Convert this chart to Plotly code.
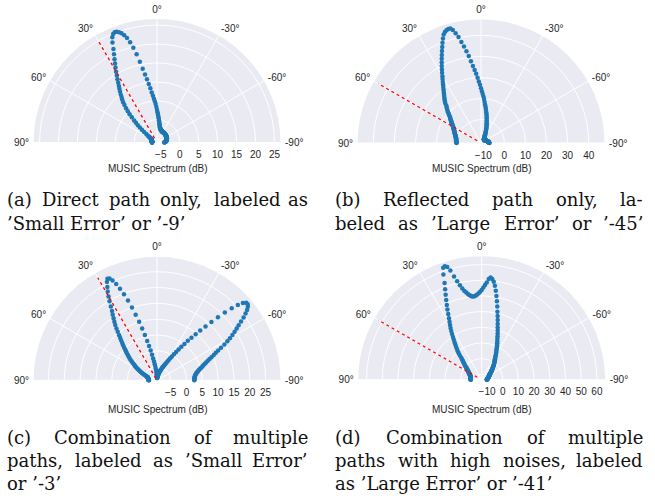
import plotly.graph_objects as go

W, H = 655, 504

# ---------------- data ----------------
theta_deg = list(range(-90, 91))  # 1 degree grid, -90..90

spec_a = [
    -4.1, -4.0, -3.9, -3.9, -3.8, -3.8, -3.7, -3.7, -3.6, -3.6,
    -3.5, -3.5, -3.5, -3.4, -3.4, -3.4, -3.3, -3.3, -3.3, -3.3,
    -3.3, -3.2, -3.2, -3.2, -3.2, -3.2, -3.2, -3.1, -3.1, -3.1,
    -3.1, -3.1, -3.1, -3.1, -3.0, -3.0, -3.0, -3.0, -3.0, -3.0,
    -3.0, -3.0, -3.0, -3.0, -3.0, -3.0, -3.0, -2.9, -2.9, -2.9,
    -2.9, -2.9, -2.9, -2.9, -2.9, -2.9, -2.9, -2.9, -2.8, -2.8,
    -2.8, -2.8, -2.8, -2.8, -2.8, -2.8, -2.8, -2.8, -2.7, -2.7,
    -2.6, -2.6, -2.5, -2.5, -2.4, -2.4, -2.3, -2.2, -2.1, -2.0,
    -1.8, -1.5, -1.2, -0.9, -0.5, -0.1, 0.4, 0.9, 1.4, 2.0,
    2.6, 3.4, 4.2, 4.9, 5.6, 6.4, 7.3, 8.4, 9.6, 10.9,
    12.2, 13.8, 15.8, 17.9, 19.8, 21.4, 22.7, 23.6, 24.3, 24.8,
    25.1, 25.2, 24.9, 24.2, 22.9, 21.2, 19.9, 18.7, 17.6, 16.6,
    15.6, 14.6, 13.7, 12.8, 12.0, 11.3, 10.6, 9.9, 9.2, 8.6,
    7.9, 7.1, 6.2, 5.3, 4.4, 3.4, 2.4, 1.6, 0.8, 0.0,
    -0.8, -1.6, -2.4, -2.9, -3.3, -3.6, -3.8, -4.0, -4.1, -4.2,
    -4.3, -4.3, -4.4, -4.4, -4.4, -4.5, -4.5, -4.5, -4.5, -4.5,
    -4.6, -4.6, -4.6, -4.6, -4.6, -4.6, -4.6, -4.6, -4.6, -4.6,
    -4.6, -4.6, -4.6, -4.7, -4.7, -4.7, -4.7, -4.7, -4.7, -4.7,
    -4.7,
]

spec_b = [
    -7.1, -7.2, -7.2, -7.3, -7.3, -7.4, -7.4, -7.5, -7.5, -7.6,
    -7.6, -7.7, -7.7, -7.8, -7.8, -7.9, -7.9, -8.0, -8.0, -8.1,
    -8.2, -8.2, -8.3, -8.3, -8.4, -8.4, -8.5, -8.5, -8.6, -8.6,
    -8.7, -8.7, -8.7, -8.8, -8.8, -8.8, -8.9, -8.9, -8.9, -8.9,
    -9.0, -9.0, -9.0, -9.0, -9.0, -9.0, -9.0, -9.0, -9.0, -9.0,
    -8.9, -8.9, -8.8, -8.7, -8.6, -8.5, -8.4, -8.3, -8.1, -8.0,
    -7.8, -7.6, -7.3, -7.0, -6.6, -6.2, -5.8, -5.3, -4.8, -4.3,
    -3.7, -3.1, -2.5, -1.9, -1.3, -0.6, 0.0, 0.9, 1.8, 2.7,
    3.5, 4.3, 5.3, 6.3, 7.3, 8.4, 9.8, 11.0, 12.2, 13.5,
    14.9, 16.5, 18.1, 19.9, 21.8, 23.7, 25.6, 28.0, 30.6, 33.0,
    35.4, 37.7, 40.3, 42.4, 44.2, 45.1, 45.2, 44.9, 44.3, 43.3,
    41.7, 39.9, 38.0, 36.3, 34.6, 33.0, 31.4, 29.9, 28.4, 27.0,
    25.5, 24.3, 23.1, 22.0, 20.9, 19.9, 19.0, 18.1, 17.3, 16.5,
    15.8, 15.0, 14.2, 13.0, 12.3, 11.7, 11.0, 10.3, 9.6, 8.9,
    8.2, 7.7, 7.2, 6.8, 6.4, 6.0, 5.6, 5.2, 4.8, 4.5,
    4.1, 3.9, 3.6, 3.4, 3.2, 3.0, 2.8, 2.6, 2.4, 2.3,
    2.1, 2.0, 1.8, 1.7, 1.5, 1.4, 1.2, 1.1, 1.0, 1.0,
    0.9, 0.9, 0.8, 0.8, 0.8, 0.7, 0.7, 0.6, 0.6, 0.5,
    0.5,
]

spec_c = [
    2.5, 2.5, 2.5, 2.6, 2.6, 2.7, 2.7, 2.8, 2.9, 3.1,
    3.3, 3.5, 3.8, 4.1, 4.4, 4.8, 5.2, 5.7, 6.1, 6.6,
    7.2, 7.9, 8.6, 9.4, 10.3, 11.2, 12.2, 13.4, 14.8, 16.1,
    17.3, 18.5, 19.6, 20.7, 21.8, 23.1, 24.5, 25.7, 26.8, 27.6,
    28.1, 28.0, 27.2, 25.6, 23.5, 21.0, 18.4, 15.9, 13.6, 11.5,
    9.7, 8.0, 6.5, 5.1, 3.8, 2.6, 1.5, 0.5, -0.4, -1.2,
    -1.9, -2.5, -3.0, -3.5, -3.9, -4.3, -4.6, -4.9, -5.2, -5.5,
    -5.8, -6.0, -6.2, -6.4, -6.6, -6.8, -7.0, -7.2, -7.4, -7.6,
    -7.7, -7.9, -8.0, -8.1, -8.2, -8.3, -8.4, -8.5, -8.6, -8.6,
    -8.5, -8.3, -7.9, -7.4, -6.9, -6.3, -5.7, -5.0, -4.2, -3.3,
    -2.3, -1.1, 0.3, 1.8, 3.5, 5.5, 7.7, 10.0, 12.5, 15.0,
    17.5, 19.8, 21.9, 23.7, 25.2, 26.2, 26.4, 25.5, 24.1, 22.8,
    21.3, 19.8, 18.2, 16.8, 15.7, 14.6, 13.6, 12.6, 11.5, 10.4,
    9.3, 8.4, 7.6, 6.8, 6.1, 5.4, 4.7, 4.1, 3.5, 2.9,
    2.4, 1.9, 1.4, 0.8, 0.3, -0.2, -0.7, -1.1, -1.5, -2.0,
    -2.4, -2.8, -3.2, -3.6, -4.0, -4.4, -4.8, -5.1, -5.4, -5.7,
    -6.0, -6.1, -6.2, -6.2, -6.3, -6.3, -6.4, -6.4, -6.4, -6.5,
    -6.5, -6.5, -6.5, -6.6, -6.6, -6.6, -6.6, -6.7, -6.7, -6.7,
    -6.7,
]

spec_d = [
    -10.2, -10.1, -10.1, -10.0, -10.0, -9.9, -9.9, -9.8, -9.8, -9.7,
    -9.6, -9.6, -9.5, -9.4, -9.4, -9.3, -9.2, -9.1, -9.0, -8.9,
    -8.8, -8.7, -8.6, -8.5, -8.4, -8.3, -8.2, -8.1, -8.0, -7.9,
    -7.8, -7.7, -7.5, -7.3, -7.1, -6.9, -6.7, -6.4, -6.1, -5.8,
    -5.5, -5.2, -4.9, -4.6, -4.3, -3.9, -3.5, -3.0, -2.6, -2.1,
    -1.6, -1.1, -0.6, -0.1, 0.5, 1.0, 1.5, 2.1, 2.7, 3.6,
    4.5, 5.4, 6.3, 7.2, 8.2, 9.5, 10.7, 11.9, 13.1, 14.5,
    16.1, 17.8, 19.6, 21.4, 23.6, 26.0, 28.5, 31.1, 34.3, 37.5,
    40.7, 44.0, 47.0, 49.5, 51.1, 51.9, 51.0, 48.6, 47.0, 45.4,
    43.8, 42.7, 41.8, 41.0, 40.4, 40.0, 39.9, 40.2, 40.9, 41.8,
    43.0, 44.2, 46.0, 48.3, 51.3, 54.7, 59.0, 61.7, 62.6, 62.0,
    58.0, 52.6, 48.8, 45.4, 42.2, 39.2, 36.4, 33.6, 31.0, 28.9,
    26.9, 25.1, 23.2, 21.3, 19.4, 17.6, 16.0, 14.5, 13.1, 11.7,
    10.3, 8.9, 7.4, 5.7, 4.6, 3.7, 2.9, 2.2, 1.5, 0.9,
    0.3, -0.3, -0.9, -1.4, -1.8, -2.2, -2.6, -2.9, -3.2, -3.5,
    -3.8, -4.0, -4.2, -4.4, -4.6, -4.8, -5.0, -5.2, -5.4, -5.5,
    -5.6, -5.7, -5.7, -5.8, -5.8, -5.9, -5.9, -6.0, -6.0, -6.0,
    -6.1, -6.1, -6.1, -6.2, -6.2, -6.2, -6.3, -6.3, -6.3, -6.4,
    -6.4,
]

spectra = [spec_a, spec_b, spec_c, spec_d]
true_angle = [30, 60, 30, 60]          # red dotted reference direction (deg)
radial_range = [[-6.0, 26.6], [-11.1, 47.5], [-9.3, 29.7], [-13.4, 65.3]]
radial_dtick = [5, 10, 5, 10]

ang_tickvals = [90, 60, 30, 0, -30, -60, -90]
ang_ticktext = ["90°", "60°", "30°", "0°", "-30°", "-60°", "-90°"]
radial_title = "MUSIC Spectrum (dB)"

# caption lines: (words, justified?)
captions = [
    [(["(a)", "Direct", "path", "only,", "labeled", "as"], True),
     (["’Small", "Error’", "or", "’-9’"], False)],
    [(["(b)", "Reflected", "path", "only,", "la-"], True),
     (["beled", "as", "’Large", "Error’", "or", "’-45’"], True)],
    [(["(c)", "Combination", "of", "multiple"], True),
     (["paths,", "labeled", "as", "’Small", "Error’"], True),
     (["or", "’-3’"], False)],
    [(["(d)", "Combination", "of", "multiple"], True),
     (["paths", "with", "high", "noises,", "labeled"], True),
     (["as", "’Large", "Error’", "or", "’-41’"], False)],
]

# ---------------- layout helpers ----------------
centers = [(157.0, 142.5), (481.0, 143.0), (157.0, 380.3), (481.7, 379.7)]
R = 123.5
label_y = [169, 169, 409, 409]
col_x = [(6, 309), (334, 644), (6, 309), (334, 644)]
line_y0 = [200, 200, 437, 437]
line_step = 23

BLUE = "#1f77b4"
TICKFONT = dict(family="Liberation Sans, Arial, sans-serif", size=10, color="#262626")
CAP_SIZE = 18
CAPFONT = dict(family="DejaVu Serif, serif", size=CAP_SIZE, color="#111111")

# approximate DejaVu Serif advance widths (em) used to justify caption lines
GLYPH_W = {
    "(": .390, ")": .390, ",": .318, "-": .338, "’": .318,
    "a": .596, "b": .641, "c": .560, "d": .641, "e": .592, "f": .370, "g": .641,
    "h": .645, "i": .320, "l": .320, "m": .948, "n": .645, "o": .602, "p": .641,
    "r": .478, "s": .513, "t": .402, "u": .645, "w": .856, "y": .565,
    "C": .734, "D": .830, "E": .730, "L": .694, "R": .770, "S": .685,
}


def word_width(w):
    return sum(GLYPH_W.get(ch, .636) for ch in w) * CAP_SIZE


def cap_ann(x, y, text, anchor="left"):
    return dict(x=x / W, y=y, xref="paper", yref="paper", text=text, showarrow=False,
                xanchor=anchor, yanchor="middle", font=CAPFONT, borderpad=0)


fig = go.Figure()
annotations = []

for i in range(4):
    name = "polar" if i == 0 else f"polar{i+1}"
    cx, cy = centers[i]
    fig.add_trace(go.Scatterpolar(
        r=spectra[i], theta=theta_deg, mode="markers",
        marker=dict(size=4.5, color=BLUE), subplot=name, showlegend=False))
    fig.add_trace(go.Scatterpolar(
        r=[min(spectra[i]), max(spectra[i])], theta=[true_angle[i], true_angle[i]],
        mode="lines", line=dict(color="red", width=1.3, dash="dot"),
        subplot=name, showlegend=False))
    fig.layout[name] = dict(
        domain=dict(x=[(cx - R) / W, (cx + R) / W], y=[1 - cy / H, 1 - (cy - R) / H]),
        sector=[0, 180],
        bgcolor="#EAEAF2",
        angularaxis=dict(rotation=90, direction="counterclockwise",
                         tickmode="array", tickvals=ang_tickvals, ticktext=ang_ticktext,
                         showline=False, ticks="outside", ticklen=2,
                         tickcolor="rgba(0,0,0,0)", gridcolor="white", gridwidth=1,
                         tickfont=TICKFONT),
        radialaxis=dict(range=radial_range[i], dtick=radial_dtick[i], tick0=0,
                        angle=0, side="clockwise", showline=False, ticks="outside",
                        ticklen=3, tickcolor="rgba(0,0,0,0)",
                        gridcolor="white", gridwidth=1, tickfont=TICKFONT),
    )
    annotations.append(dict(x=cx / W, y=1 - label_y[i] / H, xref="paper", yref="paper",
                            text=radial_title, showarrow=False, xanchor="center",
                            yanchor="middle", font=TICKFONT))
    x0, x1 = col_x[i]
    for li, (words, justified) in enumerate(captions[i]):
        y = 1 - (line_y0[i] + li * line_step) / H
        if not justified:
            annotations.append(cap_ann(x0, y, " ".join(words)))
            continue
        widths = [word_width(w) for w in words]
        gap = (x1 - x0 - sum(widths)) / (len(words) - 1)
        x = x0
        for wi, (w, ww) in enumerate(zip(words, widths)):
            if wi == len(words) - 1:
                annotations.append(cap_ann(x1, y, w, "right"))
            else:
                annotations.append(cap_ann(x, y, w, "left"))
            x += ww + gap

fig.update_layout(width=W, height=H, margin=dict(l=0, r=0, t=0, b=0),
                  paper_bgcolor="white", plot_bgcolor="white",
                  annotations=annotations, showlegend=False)

fig.write_html("out.html", config={"displayModeBar": False},
               post_script="document.body.style.margin='0';")
